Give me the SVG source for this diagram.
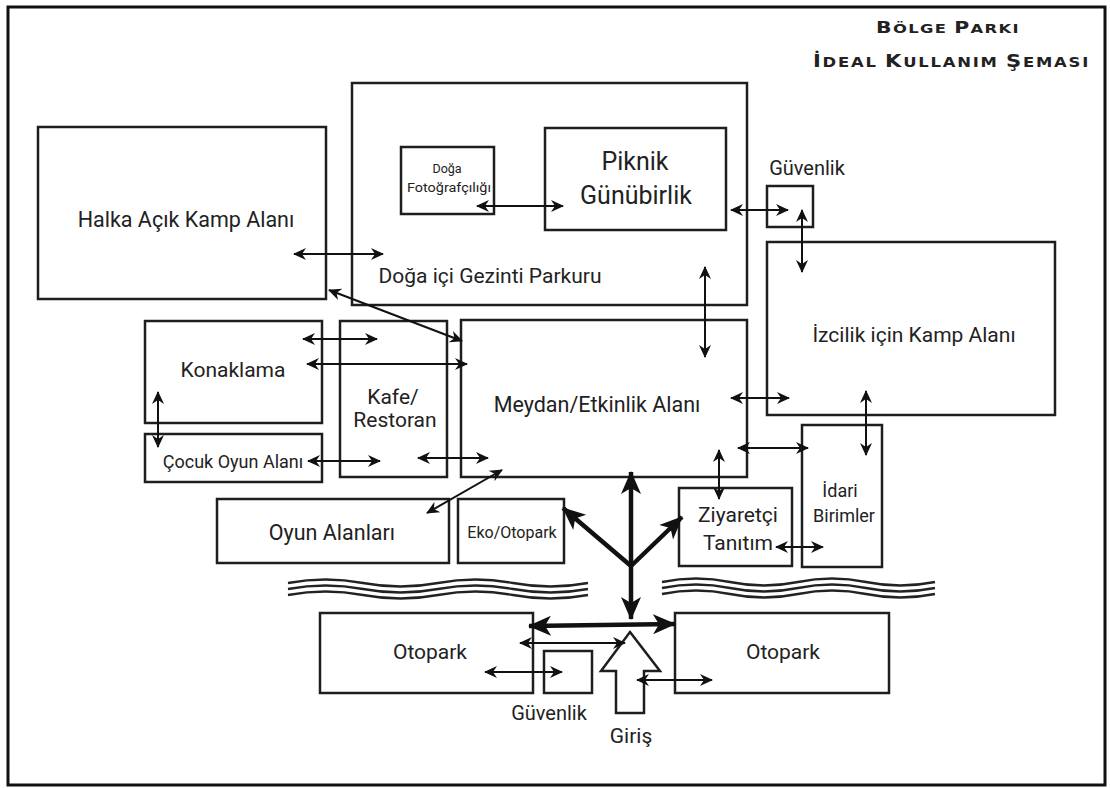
<svg xmlns="http://www.w3.org/2000/svg" width="1110" height="788" viewBox="0 0 1110 788">
<defs>
<style>
.box{fill:#fff;stroke:#1e1e1e;stroke-width:2.5}
.t{font-family:Roboto,"Liberation Sans",sans-serif;fill:#222;text-anchor:middle}
.ttl{font-family:"DejaVu Sans","Liberation Sans",sans-serif;font-weight:bold;fill:#222}
.c{fill:none;stroke:#111;stroke-width:2;marker-start:url(#a);marker-end:url(#a)}
.k{fill:none;stroke:#111;stroke-width:4.5}
.w{fill:none;stroke:#222;stroke-width:2.4}
</style>
<marker id="a" markerUnits="userSpaceOnUse" viewBox="0 0 13 13" refX="12" refY="6.5" markerWidth="13" markerHeight="13" orient="auto-start-reverse">
<path d="M0,0.5 L13,6.5 L0,12.5 L4,6.5 Z" fill="#111"/>
</marker>
<marker id="b" markerUnits="userSpaceOnUse" viewBox="0 0 24 24" refX="22" refY="12" markerWidth="24" markerHeight="24" orient="auto-start-reverse">
<path d="M0,2 L23,12 L0,22 L6,12 Z" fill="#111"/>
</marker>
<path id="wv" d="M0,0 q37.5,-7 75,0 t75,0 t75,0 t75,0"/>
<path id="wv2" d="M0,0 q34,-7 68,0 t68,0 t68,0 t69,0"/>
</defs>
<rect x="0" y="0" width="1110" height="788" fill="#fff"/>
<rect x="8" y="7" width="1097" height="778" fill="#fff" stroke="#111" stroke-width="3"/>

<g id="title">
<text class="ttl" x="876" y="33" letter-spacing="1" textLength="144" lengthAdjust="spacingAndGlyphs"><tspan font-size="15">B</tspan><tspan font-size="12">ÖLGE </tspan><tspan font-size="15">P</tspan><tspan font-size="12">ARKI</tspan></text>
<text class="ttl" x="813" y="67" letter-spacing="1.5" textLength="277" lengthAdjust="spacingAndGlyphs"><tspan font-size="18">İ</tspan><tspan font-size="14">DEAL </tspan><tspan font-size="18">K</tspan><tspan font-size="14">ULLANIM </tspan><tspan font-size="18">Ş</tspan><tspan font-size="14">EMASI</tspan></text>
</g>

<g id="halka"><rect class="box" x="38" y="127" width="288" height="172"/><text class="t" x="186" y="227" font-size="21.5">Halka Açık Kamp Alanı</text></g>
<g id="doga"><rect class="box" x="352" y="83" width="395" height="222"/><text class="t" x="490" y="283" font-size="21">Doğa içi Gezinti Parkuru</text></g>
<g id="foto"><rect class="box" x="401" y="147" width="93" height="67"/><text class="t" x="447" y="173" font-size="12.5">Doğa</text><text class="t" x="449" y="192" font-size="12.5" textLength="84" lengthAdjust="spacingAndGlyphs">Fotoğrafçılığı</text></g>
<g id="piknik"><rect class="box" x="545" y="128" width="181" height="102"/><text class="t" x="635" y="170" font-size="25">Piknik</text><text class="t" x="636" y="204" font-size="25">Günübirlik</text></g>
<g id="guv1"><rect class="box" x="767" y="186" width="46" height="41"/><text class="t" x="807" y="175" font-size="20">Güvenlik</text></g>
<g id="izcilik"><rect class="box" x="767" y="242" width="288" height="173"/><text class="t" x="914" y="342" font-size="21">İzcilik için Kamp Alanı</text></g>
<g id="konaklama"><rect class="box" x="145" y="321" width="177" height="102"/><text class="t" x="233" y="377" font-size="21">Konaklama</text></g>
<g id="cocuk"><rect class="box" x="145" y="434" width="177" height="48"/><text class="t" x="233" y="468" font-size="18">Çocuk Oyun Alanı</text></g>
<g id="kafe"><rect class="box" x="340" y="321" width="107" height="156"/><text class="t" x="393" y="404" font-size="21">Kafe/</text><text class="t" x="395" y="427" font-size="21">Restoran</text></g>
<g id="meydan"><rect class="box" x="461" y="320" width="286" height="157"/><text class="t" x="597" y="412" font-size="21.5">Meydan/Etkinlik Alanı</text></g>
<g id="idari"><rect class="box" x="802" y="425" width="80" height="142"/><text class="t" x="840" y="497" font-size="18">İdari</text><text class="t" x="844" y="522" font-size="18">Birimler</text></g>
<g id="ziyaretci"><rect class="box" x="679" y="488" width="113" height="78"/><text class="t" x="738" y="522" font-size="21">Ziyaretçi</text><text class="t" x="738" y="550" font-size="21">Tanıtım</text></g>
<g id="eko"><rect class="box" x="458" y="499" width="106" height="64"/><text class="t" x="512" y="538" font-size="16">Eko/Otopark</text></g>
<g id="oyun"><rect class="box" x="217" y="499" width="232" height="64"/><text class="t" x="332" y="540" font-size="21.5">Oyun Alanları</text></g>
<g id="otopark1"><rect class="box" x="320" y="613" width="213" height="80"/><text class="t" x="430" y="659" font-size="21">Otopark</text></g>
<g id="guv2"><rect class="box" x="544" y="651" width="48" height="42"/><text class="t" x="549" y="720" font-size="20">Güvenlik</text></g>
<g id="otopark2"><rect class="box" x="675" y="613" width="214" height="80"/><text class="t" x="783" y="659" font-size="21">Otopark</text></g>
<g id="giris"><polygon class="box" points="630,632 660,671 644,671 644,713 616,713 616,671 601,671"/><text class="t" x="631" y="743" font-size="21">Giriş</text></g>

<g id="waves">
<use href="#wv" x="288" y="583" class="w"/>
<use href="#wv" x="288" y="589" class="w"/>
<use href="#wv" x="288" y="595" class="w"/>
<use href="#wv2" x="662" y="582" class="w"/>
<use href="#wv2" x="662" y="588" class="w"/>
<use href="#wv2" x="662" y="594" class="w"/>
</g>

<g id="connectors">
<line class="c" x1="294" y1="254" x2="383" y2="254"/>
<line class="c" x1="329" y1="290" x2="462" y2="341"/>
<line class="c" x1="477" y1="206" x2="563" y2="206" stroke-width="2.8"/>
<line class="c" x1="731" y1="210" x2="788" y2="210"/>
<line class="c" x1="802" y1="210" x2="802" y2="272"/>
<line class="c" x1="705" y1="267" x2="705" y2="357"/>
<line class="c" x1="731" y1="398" x2="789" y2="398"/>
<line class="c" x1="866" y1="391" x2="866" y2="455"/>
<line class="c" x1="738" y1="448" x2="808" y2="448" stroke-width="2.8"/>
<line class="c" x1="719" y1="450" x2="719" y2="499" stroke-width="1.6"/>
<line class="c" x1="776" y1="547" x2="823" y2="547"/>
<line class="c" x1="303" y1="339" x2="377" y2="339"/>
<line class="c" x1="307" y1="364" x2="467" y2="364" stroke-width="2.6"/>
<line class="c" x1="158" y1="392" x2="158" y2="447" stroke-width="1.6"/>
<line class="c" x1="308" y1="461" x2="380" y2="461"/>
<line class="c" x1="418" y1="458" x2="488" y2="458"/>
<line class="c" x1="427" y1="513" x2="502" y2="470"/>
<line class="c" x1="485" y1="672" x2="562" y2="672"/>
<line class="c" x1="520" y1="643" x2="625" y2="643"/>
<line class="c" x1="637" y1="680" x2="712" y2="680"/>
<line class="k" x1="631" y1="472" x2="631" y2="619" marker-start="url(#b)" marker-end="url(#b)"/>
<line class="k" x1="631" y1="566" x2="563" y2="508" marker-end="url(#b)"/>
<line class="k" x1="631" y1="566" x2="682" y2="517" marker-end="url(#b)"/>
<line class="k" x1="529" y1="626" x2="675" y2="624" marker-start="url(#b)" marker-end="url(#b)"/>
</g>
</svg>
